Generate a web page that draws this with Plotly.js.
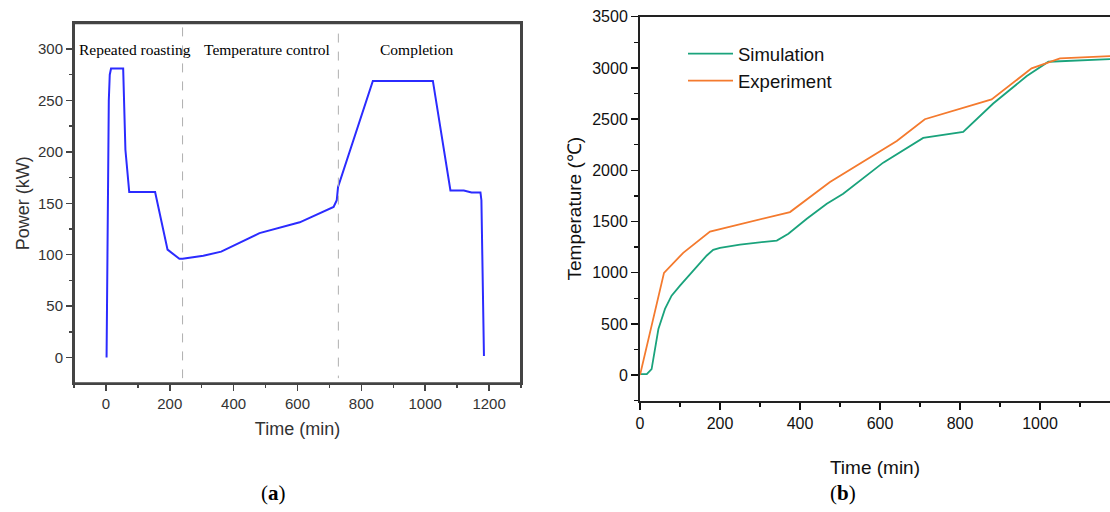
<!DOCTYPE html>
<html>
<head>
<meta charset="utf-8">
<script src="https://cdn.plot.ly/plotly-3.0.1.min.js"></script>
<style>html,body{margin:0;padding:0;background:#fff;}#chart{width:1110px;height:512px;}</style>
</head>
<body>
<div id="chart"></div>
<script>
// (a) Power profile
const powerTime = [2, 6, 9, 12, 16, 54, 61, 73, 154, 193, 230, 240, 305, 361, 481, 607, 713, 723, 727, 836, 1024, 1079, 1121, 1145, 1173, 1176, 1184];
const powerKW   = [0, 150, 250, 275, 281, 281, 202, 161, 161, 105, 96, 96, 99, 103, 121, 131.5, 146.5, 153, 166, 269, 269, 162.5, 162.5, 160.5, 160.5, 153, 1.5];
const stageBounds = [240, 728];
const stageNames = ["Repeated roasting", "Temperature control", "Completion"];
const stageLabelX = [90, 506, 972];

// (b) Temperature
const simTime = [0, 17, 29, 37.5, 46, 62.5, 79, 100, 133, 167, 183, 200, 250, 342, 371, 417, 467, 508, 608, 708, 808, 883, 967, 1021, 1180];
const simTemp = [10, 10, 59, 238, 450, 646, 776, 874, 1021, 1168, 1223, 1243, 1275, 1314, 1380, 1527, 1674, 1771, 2075, 2316, 2374, 2652, 2920, 3060, 3087];
const expTime = [0, 60, 108, 175, 375, 442, 475, 642, 712, 879, 979, 1050, 1180];
const expTemp = [0, 998, 1194, 1402, 1592, 1787, 1885, 2286, 2499, 2692, 2995, 3093, 3116];
const seriesNames = ["Simulation", "Experiment"];

const sans = "Liberation Sans, Arial, sans-serif";
const serif = "Liberation Serif, Times New Roman, serif";

const traces = [
  {x: powerTime, y: powerKW, xaxis: 'x', yaxis: 'y', mode: 'lines', showlegend: false,
   line: {color: '#2b2bff', width: 2}},
  {x: simTime, y: simTemp, xaxis: 'x2', yaxis: 'y2', mode: 'lines', name: seriesNames[0],
   line: {color: '#1aa37c', width: 1.8}},
  {x: expTime, y: expTemp, xaxis: 'x2', yaxis: 'y2', mode: 'lines', name: seriesNames[1],
   line: {color: '#f47a2e', width: 1.8}}
];

const shapes = stageBounds.map((b, i) => ({
  type: 'line', xref: 'x', yref: 'y', x0: b, x1: b, y0: i === 0 ? 321 : 315, y1: -20,
  line: {color: '#b0b0b0', width: 1, dash: 'dash'}
}));
// frame box of panel (a)
shapes.push({type: 'rect', xref: 'x domain', yref: 'y domain', x0: 0, x1: 1, y0: 0, y1: 1,
  line: {color: '#444', width: 2}, fillcolor: 'rgba(0,0,0,0)', layer: 'above'});

const annotations = stageNames.map((t, i) => ({
  text: t, xref: 'x', yref: 'y', x: stageLabelX[i], y: 300, showarrow: false,
  font: {family: serif, size: 15.5, color: '#000'}, xanchor: 'center', yanchor: 'middle'
}));
annotations.push({text: '(<b>a</b>)', xref: 'paper', yref: 'paper', x: 273/1110, y: 1 - 493/512,
  showarrow: false, font: {family: serif, size: 21, color: '#000'}, xanchor: 'center', yanchor: 'middle'});
annotations.push({text: '(<b>b</b>)', xref: 'paper', yref: 'paper', x: 843/1110, y: 1 - 493/512,
  showarrow: false, font: {family: serif, size: 21, color: '#000'}, xanchor: 'center', yanchor: 'middle'});

const layout = {
  width: 1110, height: 512, autosize: false,
  margin: {l: 0, r: 0, t: 0, b: 0},
  paper_bgcolor: '#fff', plot_bgcolor: '#fff',
  showlegend: true,
  legend: {x: 683/1110, y: 1 - 35/512, xanchor: 'left', yanchor: 'top',
    font: {family: sans, size: 18.5, color: '#111'}, bgcolor: 'rgba(0,0,0,0)', itemwidth: 45,
    tracegroupgap: 0},
  xaxis: {domain: [74/1110, 521/1110], anchor: 'y', range: [-100, 1300],
    tickvals: [0, 200, 400, 600, 800, 1000, 1200], ticks: 'outside', ticklen: 6, tickwidth: 1.5, tickcolor: '#444',
    minor: {tickvals: [-100, 100, 300, 500, 700, 900, 1100, 1300], ticks: 'outside', ticklen: 3, tickcolor: '#444', tickwidth: 1.5},
    showline: true, linecolor: '#444', linewidth: 2, mirror: true, showgrid: false, zeroline: false,
    tickfont: {family: sans, size: 15, color: '#333'},
    title: {text: 'Time (min)', font: {family: sans, size: 18, color: '#333'}, standoff: 11}},
  yaxis: {domain: [1 - 383.3/512, 1 - 23.3/512], anchor: 'x', range: [-25, 325],
    tickvals: [0, 50, 100, 150, 200, 250, 300], ticks: 'outside', ticklen: 6, tickwidth: 1.5, tickcolor: '#444',
    minor: {tickvals: [25, 75, 125, 175, 225, 275], ticks: 'outside', ticklen: 3, tickcolor: '#444', tickwidth: 1.5},
    showline: true, linecolor: '#444', linewidth: 2, mirror: true, showgrid: false, zeroline: false,
    tickfont: {family: sans, size: 15, color: '#333'},
    title: {text: 'Power (kW)', font: {family: sans, size: 18, color: '#333'}, standoff: 4}},
  xaxis2: {domain: [640/1110, 1], anchor: 'y2', range: [0, 1175],
    tickvals: [0, 200, 400, 600, 800, 1000], ticks: 'outside', ticklen: 7, tickwidth: 1.5, tickcolor: '#111',
    minor: {tickvals: [100, 300, 500, 700, 900, 1100], ticks: 'outside', ticklen: 4, tickcolor: '#111', tickwidth: 1.5},
    showline: true, linecolor: '#222', linewidth: 2, mirror: true, showgrid: false, zeroline: false,
    tickfont: {family: sans, size: 16, color: '#111'},
    title: {text: 'Time (min)', font: {family: sans, size: 19, color: '#111'}, standoff: 30}},
  yaxis2: {domain: [1 - 400.7/512, 1 - 16.7/512], anchor: 'x2', range: [-250, 3500],
    tickvals: [0, 500, 1000, 1500, 2000, 2500, 3000, 3500], ticks: 'outside', ticklen: 7, tickwidth: 1.5, tickcolor: '#111',
    minor: {tickvals: [-250, 250, 750, 1250, 1750, 2250, 2750, 3250], ticks: 'outside', ticklen: 4, tickcolor: '#111', tickwidth: 1.5},
    showline: true, linecolor: '#222', linewidth: 2, mirror: false, showgrid: false, zeroline: false,
    tickfont: {family: sans, size: 16, color: '#111'},
    title: {text: 'Temperature (℃)', font: {family: sans, size: 19, color: '#111'}, standoff: 6}},
  shapes: shapes,
  annotations: annotations
};

Plotly.newPlot('chart', traces, layout, {staticPlot: true, displayModeBar: false});
</script>
</body>
</html>
